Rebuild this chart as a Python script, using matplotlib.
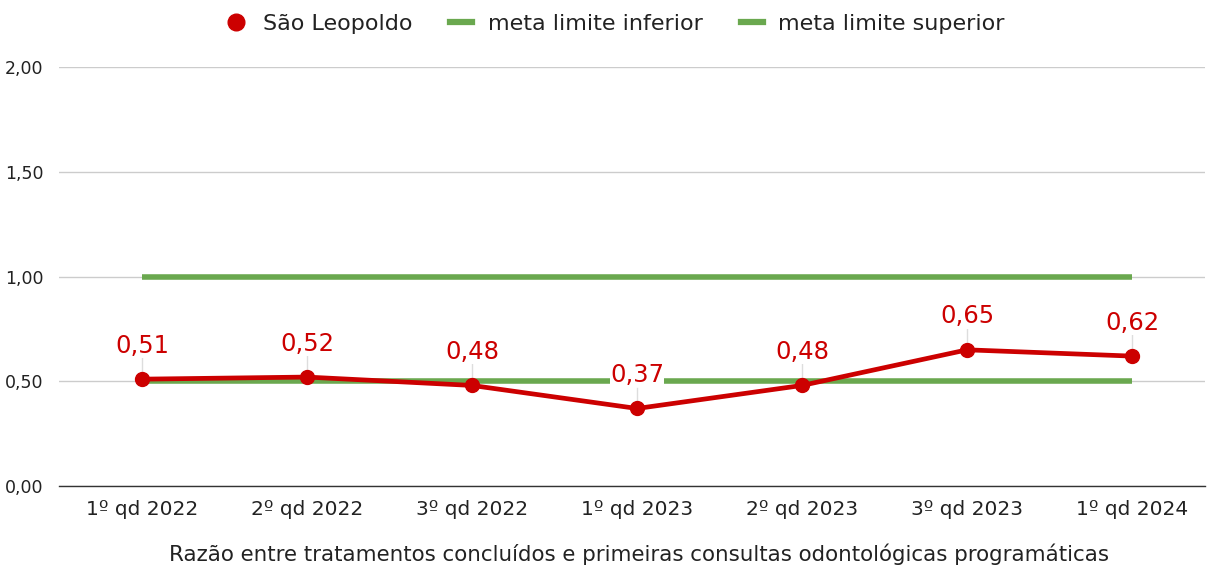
import matplotlib
matplotlib.use("Agg")
import matplotlib.pyplot as plt
from matplotlib.lines import Line2D

categories = ["1º qd 2022", "2º qd 2022", "3º qd 2022", "1º qd 2023", "2º qd 2023", "3º qd 2023", "1º qd 2024"]
sao_leopoldo = [0.51, 0.52, 0.48, 0.37, 0.48, 0.65, 0.62]
meta_inferior = [0.50] * 7
meta_superior = [1.00] * 7
yticks = [0.0, 0.5, 1.0, 1.5, 2.0]

RED = "#cc0000"
GREEN = "#6aa84f"
TXT = "#222222"

plt.rcParams["font.family"] = ["DejaVu Sans"]
fig = plt.figure(figsize=(12.07, 5.66), dpi=100)
ax = fig.add_axes([59 / 1207, 80 / 566, 1146 / 1207, 419 / 566])

x = list(range(len(categories)))
ax.plot(x, meta_inferior, color=GREEN, lw=4, solid_capstyle="butt", zorder=2)
ax.plot(x, meta_superior, color=GREEN, lw=4, solid_capstyle="butt", zorder=2)
ax.plot(x, sao_leopoldo, color=RED, lw=3.4, marker="o", ms=10, zorder=4)

for xi, v in zip(x, sao_leopoldo):
    ax.plot([xi, xi], [v, v + 0.1], color="#dddddd", lw=1, zorder=1)
    ax.annotate(f"{v:.2f}".replace(".", ","), xy=(xi, v), xytext=(0, 24),
                textcoords="offset points", ha="center", va="center",
                color=RED, fontsize=17.5,
                bbox=dict(facecolor="white", edgecolor="none", pad=0.2), zorder=5)

ax.set_xlim(-0.503, 6.442)
ax.set_ylim(0, 2)
ax.set_yticks(yticks)
ax.set_yticklabels([f"{t:.2f}".replace(".", ",") for t in yticks], fontsize=12.5, color=TXT)
ax.set_xticks(x)
ax.set_xticklabels(categories, fontsize=14.5, color=TXT)
ax.tick_params(length=0)
ax.tick_params(axis="x", pad=10)
ax.tick_params(axis="y", pad=11)
ax.grid(axis="y", color="#cccccc", lw=1)
ax.set_axisbelow(True)
for s in ["top", "right", "left"]:
    ax.spines[s].set_visible(False)
ax.spines["bottom"].set_color("#333333")
ax.spines["bottom"].set_linewidth(1)

fig.text(639 / 1207, 1 - 554 / 566,
         "Razão entre tratamentos concluídos e primeiras consultas odontológicas programáticas",
         fontsize=15.4, color=TXT, ha="center", va="center")

handles = [
    Line2D([], [], color=RED, marker="o", ls="none", ms=12),
    Line2D([], [], color=GREEN, lw=4.5),
    Line2D([], [], color=GREEN, lw=4.5),
]
fig.legend(handles, ["São Leopoldo", "meta limite inferior", "meta limite superior"],
           loc="center", bbox_to_anchor=(615 / 1207, 1 - 24 / 566), ncol=3, frameon=False,
           fontsize=16, handlelength=1.0, handletextpad=0.7, columnspacing=1.7,
           labelcolor=TXT)

fig.savefig("out.png", dpi=100)
